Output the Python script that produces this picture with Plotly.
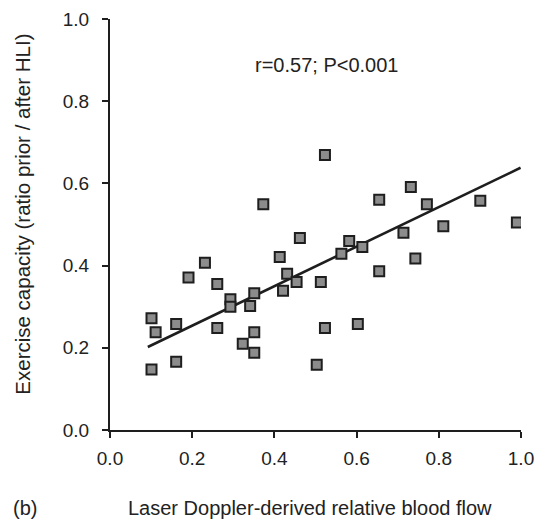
import plotly.graph_objects as go

# Laser Doppler-derived relative blood flow (x) vs exercise capacity ratio (y)
blood_flow = [0.101, 0.111, 0.101, 0.161, 0.161, 0.191, 0.231, 0.261, 0.261, 0.293,
              0.293, 0.323, 0.341, 0.351, 0.351, 0.351, 0.373, 0.413, 0.421, 0.431,
              0.454, 0.462, 0.523, 0.513, 0.523, 0.503, 0.563, 0.582, 0.614, 0.603,
              0.655, 0.655, 0.714, 0.732, 0.743, 0.771, 0.811, 0.901, 0.990]
exercise_capacity = [0.272, 0.238, 0.147, 0.258, 0.166, 0.371, 0.407, 0.355, 0.248, 0.318,
                     0.300, 0.210, 0.302, 0.333, 0.238, 0.188, 0.549, 0.421, 0.339, 0.380,
                     0.360, 0.467, 0.669, 0.360, 0.248, 0.159, 0.429, 0.460, 0.445, 0.258,
                     0.560, 0.386, 0.480, 0.591, 0.417, 0.549, 0.496, 0.558, 0.505]

# Endpoints of the fitted regression line
fit_x = [0.092, 0.999]
fit_y = [0.202, 0.638]

stats_label = "r=0.57; P<0.001"
panel_label = "(b)"
x_title = "Laser Doppler-derived relative blood flow"
y_title = "Exercise capacity (ratio prior / after HLI)"
tick_values = [0.0, 0.2, 0.4, 0.6, 0.8, 1.0]

FONT = "Liberation Sans, Arial, sans-serif"
INK = "#1e1e1e"
TEXT = "#222222"

fig = go.Figure()
fig.add_trace(go.Scatter(
    x=fit_x, y=fit_y, mode="lines",
    line=dict(color=INK, width=2.6),
    hoverinfo="skip", showlegend=False,
))
fig.add_trace(go.Scatter(
    x=blood_flow, y=exercise_capacity, mode="markers",
    marker=dict(symbol="square", size=10, color="#8c8c8c",
                line=dict(color=INK, width=2)),
    showlegend=False,
))

axis_common = dict(
    showgrid=False, zeroline=False, automargin=False,
    showline=True, linecolor=INK, linewidth=2,
    ticks="outside", ticklen=6, tickwidth=2, tickcolor=INK,
    tickvals=tick_values, tickformat=".1f",
    tickfont=dict(family=FONT, size=19, color=TEXT),
    range=[0, 1],
)

text_common = dict(xref="paper", yref="paper", showarrow=False,
                   xanchor="center", yanchor="middle")

fig.update_layout(
    width=536, height=520,
    margin=dict(l=110, r=15, t=19, b=90),
    plot_bgcolor="white", paper_bgcolor="white",
    font=dict(family=FONT, color=TEXT),
    xaxis=dict(**axis_common, ticklabelstandoff=4),
    yaxis=dict(**axis_common, ticklabelstandoff=9),
    annotations=[
        dict(text=stats_label, x=0.526, y=0.888, **text_common,
             font=dict(family=FONT, size=20, color=TEXT)),
        dict(text=x_title, x=0.487, y=-0.190, **text_common,
             font=dict(family=FONT, size=20, color=TEXT)),
        dict(text=y_title, x=-0.212, y=0.526, textangle=-90, **text_common,
             font=dict(family=FONT, size=20.5, color=TEXT)),
        dict(text=panel_label, x=-0.208, y=-0.190, **text_common,
             font=dict(family=FONT, size=20, color=TEXT)),
    ],
)

fig.write_html("out.html")
